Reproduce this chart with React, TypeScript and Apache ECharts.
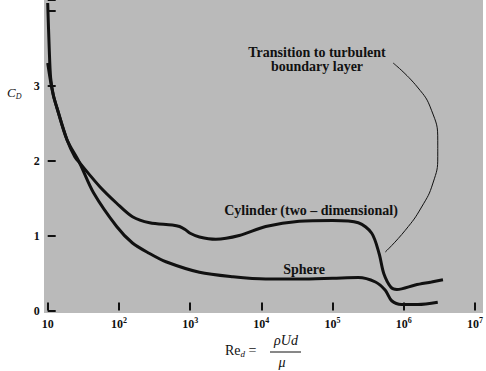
import React, { useEffect, useRef } from "react";
import * as echarts from "echarts";

// Reynolds numbers (x) and drag coefficients (y)
const cylinderRe = [10, 11, 12, 13.5, 18.6, 24, 28, 54, 93, 155, 270, 560, 710, 850, 1000, 1350, 2300, 4900, 11500, 34000, 100000, 230000, 355000, 450000, 525000, 660000, 800000, 1450000, 2450000, 3550000];
const cylinderCd = [3.3, 3.05, 2.87, 2.7, 2.28, 2.05, 1.97, 1.65, 1.43, 1.25, 1.17, 1.14, 1.12, 1.08, 1.03, 0.98, 0.95, 1.0, 1.12, 1.19, 1.2, 1.17, 1.03, 0.76, 0.49, 0.31, 0.28, 0.34, 0.38, 0.41];

const sphereRe = [10, 10.5, 11, 12, 13.5, 18.6, 28, 44, 93, 155, 270, 457, 1350, 4000, 11500, 34000, 100000, 230000, 400000, 550000, 676000, 933000, 1580000, 3000000];
const sphereCd = [4.1, 3.5, 3.1, 2.87, 2.7, 2.28, 1.97, 1.57, 1.12, 0.9, 0.76, 0.65, 0.51, 0.45, 0.42, 0.42, 0.43, 0.44, 0.38, 0.27, 0.13, 0.08, 0.08, 0.11];

// leader curve of the "Transition to turbulent boundary layer" note
const leaderRe = [708000, 1550000, 2450000, 3000000, 3000000, 2570000, 1780000, 1050000, 550000];
const leaderCd = [3.3, 2.98, 2.67, 2.27, 2.05, 1.7, 1.38, 1.07, 0.78];

const yTickLabels = [0, 1, 2, 3];
const xExponents = [1, 2, 3, 4, 5, 6, 7];

const annoTop = "Transition to turbulent";
const annoBottom = "boundary layer";
const cylinderLabel = "Cylinder (two \u2013 dimensional)";
const sphereLabel = "Sphere";

const SERIF = "Liberation Serif";

const zip = (xs: number[], ys: number[]) => xs.map((x, i) => [x, ys[i]]);

export default function App() {
  const ref = useRef<HTMLDivElement>(null);
  useEffect(() => {
    const chart = echarts.init(ref.current!, null, { renderer: "svg" });
    const label = (text: string, x: number, y: number, size: number, weight: string, style: string) => ({
      type: "text",
      z: 100,
      x,
      y,
      style: {
        text,
        fontFamily: SERIF,
        fontSize: size,
        fontWeight: weight,
        fontStyle: style,
        fill: "#111",
        align: "center",
        verticalAlign: "middle",
        textAlign: "center",
        textVerticalAlign: "middle",
      },
    });
    chart.setOption({
      animation: false,
      grid: { left: 47.7, right: 9, top: 0, bottom: 60.5, containLabel: false },
      xAxis: {
        type: "log",
        logBase: 10,
        min: 10,
        max: 10000000,
        axisLine: { show: false },
        axisTick: { show: true, inside: true, length: 8, lineStyle: { color: "#111", width: 2 } },
        minorTick: { show: false },
        splitLine: { show: false },
        axisLabel: {
          margin: 6,
          color: "#111",
          formatter: (v: number) => {
            const e = Math.round(Math.log10(v));
            if (!xExponents.includes(e)) return "";
            return e === 1 ? "{b|10}" : `{b|10}{s|${e}}`;
          },
          rich: {
            b: { fontFamily: SERIF, fontSize: 12, fontWeight: "bold", color: "#111", lineHeight: 14 },
            s: { fontFamily: SERIF, fontSize: 8, fontWeight: "bold", color: "#111", verticalAlign: "top", lineHeight: 9 },
          },
        },
      },
      yAxis: {
        type: "value",
        min: 0,
        max: 4.14,
        interval: 1,
        axisLine: { show: false },
        axisTick: { show: true, inside: true, length: 8, lineStyle: { color: "#111", width: 2 } },
        splitLine: { show: false },
        axisLabel: {
          margin: 8,
          color: "#111",
          fontFamily: SERIF,
          fontSize: 12,
          fontWeight: "bold",
          formatter: (v: number) => (yTickLabels.includes(v) ? String(v) : ""),
        },
      },
      graphic: [
        {
          type: "rect",
          z: -10,
          shape: { x: 44, y: 0, width: 439, height: 313 },
          style: { fill: "#bababa" },
          silent: true,
        },
        label(annoTop, 317, 52, 14, "bold", "normal"),
        label(annoBottom, 317, 66, 14, "bold", "normal"),
        label(cylinderLabel, 311, 210, 14, "bold", "normal"),
        label(sphereLabel, 304, 269, 14, "bold", "normal"),
        {
          type: "text",
          z: 100,
          x: 7,
          y: 92,
          style: {
            text: "{c|C}{d|D}",
            align: "left",
            verticalAlign: "middle",
            textAlign: "left",
            textVerticalAlign: "middle",
            rich: {
              c: { fontFamily: SERIF, fontStyle: "italic", fontSize: 13, fill: "#111", color: "#111", lineHeight: 16 },
              d: { fontFamily: SERIF, fontStyle: "italic", fontSize: 8, fill: "#111", color: "#111", verticalAlign: "bottom", lineHeight: 10 },
            },
          },
        },
        {
          type: "text",
          z: 100,
          x: 225,
          y: 350,
          style: {
            text: "{r|Re}{d|d}{r| =}",
            align: "left",
            verticalAlign: "middle",
            textAlign: "left",
            textVerticalAlign: "middle",
            rich: {
              r: { fontFamily: SERIF, fontSize: 14, fill: "#111", color: "#111", lineHeight: 16 },
              d: { fontFamily: SERIF, fontStyle: "italic", fontSize: 9, fill: "#111", color: "#111", verticalAlign: "bottom", lineHeight: 10 },
            },
          },
        },
        label("\u03c1Ud", 286, 340, 14, "normal", "italic"),
        {
          type: "line",
          z: 100,
          shape: { x1: 270, y1: 352, x2: 301, y2: 352 },
          style: { stroke: "#111", lineWidth: 1 },
        },
        label("\u03bc", 282, 362, 14, "normal", "italic"),
      ],
      series: [
        {
          type: "line",
          name: "Cylinder",
          data: zip(cylinderRe, cylinderCd),
          smooth: 0.3,
          symbol: "none",
          lineStyle: { color: "#111", width: 3 },
          z: 5,
        },
        {
          type: "line",
          name: "Sphere",
          data: zip(sphereRe, sphereCd),
          smooth: 0.3,
          symbol: "none",
          lineStyle: { color: "#111", width: 3 },
          z: 5,
        },
        {
          type: "line",
          name: "Transition",
          data: zip(leaderRe, leaderCd),
          smooth: 0.5,
          symbol: "none",
          lineStyle: { color: "#111", width: 1 },
          z: 4,
        },
      ],
    });
    return () => chart.dispose();
  }, []);
  return <div ref={ref} style={{ position: "absolute", left: 0, top: 0, width: 486, height: 371 }} />;
}
